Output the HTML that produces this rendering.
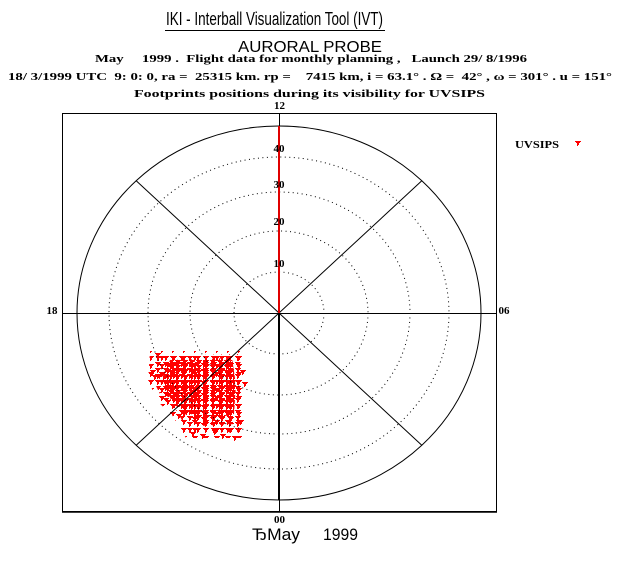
<!DOCTYPE html>
<html><head><meta charset="utf-8"><style>
html,body{margin:0;padding:0;background:#fff;}
svg{display:block;}
text{font-family:"Liberation Serif",serif;font-weight:bold;fill:#000;}
text.s{font-family:"Liberation Sans",sans-serif;font-weight:normal;}
</style></head><body>
<svg width="620" height="570" viewBox="0 0 620 570" xmlns="http://www.w3.org/2000/svg">
<defs>
<path id="m" d="M0 0H6V1H5V2H4V4H3V5H2V2H1V1H0Z" fill="#f00"/>
<pattern id="pA" x="0" y="0" width="7" height="5" patternUnits="userSpaceOnUse"><use href="#m"/></pattern>
<pattern id="pA2" x="3" y="3" width="9" height="6" patternUnits="userSpaceOnUse"><use href="#m"/></pattern>
<pattern id="pB" x="3" y="2" width="8" height="6" patternUnits="userSpaceOnUse"><use href="#m"/></pattern>
<pattern id="pC" x="5" y="4" width="11" height="8" patternUnits="userSpaceOnUse"><use href="#m"/></pattern>
</defs>
<rect width="620" height="570" fill="#fff"/>

<!-- header -->
<text class="s" x="274.5" y="25" font-size="18" textLength="217" lengthAdjust="spacingAndGlyphs" text-anchor="middle">IKI - Interball Visualization Tool (IVT)</text>
<line x1="165" y1="30.5" x2="385" y2="30.5" stroke="#000" stroke-width="1"/>
<text class="s" x="310" y="52" font-size="16" textLength="144" lengthAdjust="spacingAndGlyphs" text-anchor="middle">AURORAL PROBE</text>
<text x="95" y="62" font-size="11" textLength="432" lengthAdjust="spacingAndGlyphs" xml:space="preserve">May     1999 .  Flight data for monthly planning ,   Launch 29/ 8/1996</text>
<text x="8" y="80" font-size="11" textLength="604" lengthAdjust="spacingAndGlyphs" xml:space="preserve">18/ 3/1999 UTC  9: 0: 0, ra =  25315 km. rp =    7415 km, i = 63.1° . Ω =  42° , ω = 301° . u = 151°</text>
<text x="134" y="97" font-size="11" textLength="351" lengthAdjust="spacingAndGlyphs">Footprints positions during its visibility for UVSIPS</text>

<!-- scatter -->
<polygon points="150,351 243,351 246,395 244,438 186,438 172,415 158,402 148,380" fill="url(#pC)"/>
<polygon points="156,356 240,354 243,398 241,432 190,434 176,410 162,398 151,376" fill="url(#pB)"/>
<polygon points="170,360 232,358 236,385 234,414 208,420 185,412 170,398 162,378" fill="url(#pA)"/>
<polygon points="166,362 236,360 238,392 236,424 200,426 180,410 166,395 158,376" fill="url(#pA2)"/>
<use href="#m" x="150" y="370"/><use href="#m" x="152" y="375"/><use href="#m" x="155" y="353"/>
<use href="#m" x="159" y="356"/><use href="#m" x="240" y="370"/><use href="#m" x="242" y="382"/>
<use href="#m" x="238" y="420"/><use href="#m" x="190" y="432"/><use href="#m" x="200" y="434"/>
<use href="#m" x="212" y="430"/><use href="#m" x="228" y="428"/><use href="#m" x="176" y="414"/>
<use href="#m" x="232" y="436"/><use href="#m" x="220" y="434"/><use href="#m" x="165" y="400"/>

<!-- frame -->
<rect x="62.5" y="113.5" width="434" height="398" fill="none" stroke="#000" stroke-width="1"/>
<line x1="62" y1="512" x2="497" y2="512" stroke="#000" stroke-width="1.5"/>

<!-- grid -->
<g fill="none" stroke="#000" stroke-width="1" stroke-dasharray="1 3.5">
<ellipse cx="279" cy="313" rx="45" ry="41"/>
<ellipse cx="279" cy="313" rx="89" ry="82"/>
<ellipse cx="279" cy="313" rx="131" ry="121"/>
<ellipse cx="279" cy="313" rx="170" ry="156"/>
</g>
<ellipse cx="279" cy="313" rx="202" ry="187" fill="none" stroke="#000" stroke-width="1"/>
<line x1="62" y1="313.5" x2="496" y2="313.5" stroke="#000" stroke-width="1"/>
<g stroke="#000" stroke-width="1">
<line x1="279" y1="313" x2="136.2" y2="180.8"/>
<line x1="279" y1="313" x2="421.8" y2="180.8"/>
<line x1="279" y1="313" x2="136.2" y2="445.2"/>
<line x1="279" y1="313" x2="421.8" y2="445.2"/>
</g>
<line x1="279.5" y1="113" x2="279.5" y2="126" stroke="#000" stroke-width="1"/>
<line x1="279" y1="126" x2="279" y2="313" stroke="#e00000" stroke-width="2"/>
<line x1="279" y1="313" x2="279" y2="500" stroke="#000" stroke-width="2"/>
<line x1="279.5" y1="500" x2="279.5" y2="512" stroke="#000" stroke-width="1"/>

<!-- labels -->
<g font-size="11" text-anchor="middle">
<text x="279.5" y="109">12</text>
<text x="279.5" y="523">00</text>
<text x="52" y="314">18</text>
<text x="504" y="314">06</text>
<text x="279" y="152">40</text>
<text x="279" y="188">30</text>
<text x="279" y="225">20</text>
<text x="279" y="267">10</text>
</g>
<text x="515" y="148" font-size="11" textLength="44" lengthAdjust="spacingAndGlyphs">UVSIPS</text>
<use href="#m" x="575" y="141"/>

<!-- footer -->
<text class="s" x="252" y="540" font-size="17" textLength="48" lengthAdjust="spacingAndGlyphs">ЂMay</text>
<text class="s" x="323" y="540" font-size="17" textLength="35" lengthAdjust="spacingAndGlyphs">1999</text>
</svg>
</body></html>
